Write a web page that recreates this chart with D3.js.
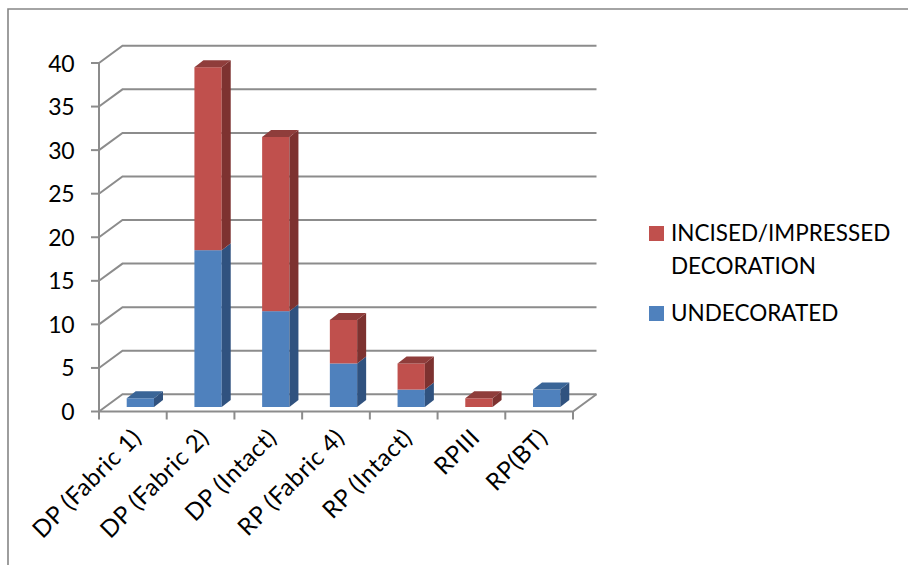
<!DOCTYPE html>
<html><head><meta charset="utf-8">
<script src="https://cdn.jsdelivr.net/npm/d3@7"></script>
<style>
html,body{margin:0;padding:0;background:#fff}
svg{display:block}
text{font-family:Lato,"Open Sans",sans-serif;fill:#000}
</style></head><body>
<svg id="c" width="908" height="565"></svg>
<script>
const categories=["DP (Fabric 1)","DP (Fabric 2)","DP (Intact)","RP (Fabric 4)","RP (Intact)","RPIII","RP(BT)"];
const undecorated=[1,18,11,5,2,0,2];
const incised=[0,21,20,5,3,1,0];
const yTicks=[0,5,10,15,20,25,30,35,40];
const legendLines=[["INCISED/IMPRESSED","DECORATION"],["UNDECORATED"]];

const grey="#8c8c8c";
const svg=d3.select("#c");
svg.append("path").attr("d","M8,565V9H908").attr("fill","none").attr("stroke","#868686").attr("stroke-width",1.6);

const x=d3.scaleBand().domain(categories).range([99,573]).padding(0);
const y=d3.scaleLinear().domain([0,40]).range([411.5,63]);
const wallDx=23.5,wallDy=-17.2;

const g=svg.append("g").attr("fill","none").attr("stroke",grey).attr("stroke-width",2);
g.selectAll("path.grid").data(yTicks).join("path").attr("class","grid")
 .attr("d",d=>`M${x.range()[0]},${y(d)}L${x.range()[0]+wallDx},${y(d)+wallDy}H${x.range()[1]+wallDx}`);
g.append("path").attr("d",`M${x.range()[1]+wallDx},${y(0)+wallDy}L${x.range()[1]},${y(0)}H${x.range()[0]}`);
g.append("path").attr("d",`M99,${y(40)}V${y(0)}`);
g.selectAll("path.yt").data(yTicks).join("path").attr("class","yt").attr("d",d=>`M91,${y(d)}H99`);
const xEdges=categories.map(c=>x(c)).concat([x.range()[1]]);
g.selectAll("path.xt").data(xEdges).join("path").attr("class","xt").attr("d",d=>`M${d},${y(0)}v8`);

svg.selectAll("text.yl").data(yTicks).join("text").attr("class","yl")
 .attr("x",74).attr("y",d=>y(d)+8.5).attr("text-anchor","end").attr("font-size",23).attr("letter-spacing",-0.5).text(d=>d);

svg.selectAll("text.xl").data(categories).join("text").attr("class","xl")
 .attr("text-anchor","end").attr("font-size",24).attr("letter-spacing",0.6)
 .attr("transform",c=>`translate(${x(c)+x.bandwidth()/2+10},${411+28}) rotate(-45)`).text(c=>c);

const barW=27.3,off=7.5,baseLift=4.5,dx=9,dy=-7;
const colors={
 u:{front:"#4f81bd",side:"#30527f",top:"#3a6597"},
 i:{front:"#c0504d",side:"#7d3230",top:"#8f3d3b"}
};
const segs=[];
categories.forEach((c,i)=>{
 if(undecorated[i]>0)segs.push({c,s:"u",a:0,b:undecorated[i],isTop:incised[i]===0});
 if(incised[i]>0)segs.push({c,s:"i",a:undecorated[i],b:undecorated[i]+incised[i],isTop:true});
});
const bars=svg.append("g");
const bx=d=>x(d.c)+x.bandwidth()/2+off-barW/2;
const by=v=>y(v)-baseLift;
const sel=bars.selectAll("g").data(segs).join("g");
sel.append("rect").attr("x",bx).attr("y",d=>by(d.b)).attr("width",barW).attr("height",d=>by(d.a)-by(d.b)).attr("fill",d=>colors[d.s].front);
sel.append("path").attr("fill",d=>colors[d.s].side).attr("d",d=>{
 const r=bx(d)+barW;
 return `M${r},${by(d.b)}l${dx},${dy}V${by(d.a)+dy}L${r},${by(d.a)}Z`;});
sel.filter(d=>d.isTop).append("path").attr("fill",d=>colors[d.s].top).attr("d",d=>{
 const l=bx(d);
 return `M${l},${by(d.b)}l${dx},${dy}h${barW}l${-dx},${-dy}Z`;});

const legY=[226,306];
const legCol=[colors.i.front,colors.u.front];
const leg=svg.append("g");
legendLines.forEach((lines,i)=>{
 leg.append("rect").attr("x",649).attr("y",legY[i]).attr("width",15).attr("height",15).attr("fill",legCol[i]);
 lines.forEach((t,j)=>leg.append("text").attr("x",671).attr("y",legY[i]+15+j*33.3).attr("font-size",22.5).text(t));
});
</script>
</body></html>
